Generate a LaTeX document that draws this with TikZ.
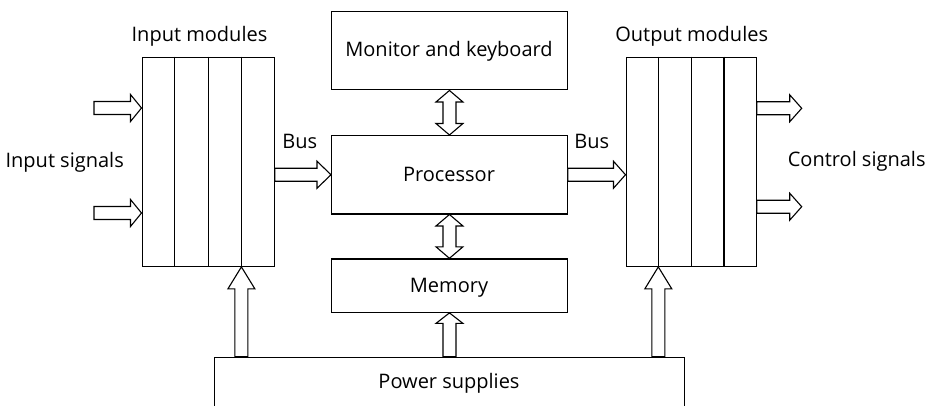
\documentclass[tikz,border=0pt]{standalone}
\usepackage{fontspec}
\setmainfont{Open Sans}
\usetikzlibrary{calc}
\tikzset{
  box/.style={draw, line width=1.2pt, inner sep=0pt, anchor=north west, font=\lblfont},
  divl/.style={line width=1.2pt},
  fat/.style={draw, line width=1.1pt, fill=white, line join=miter},
  lbl/.style={inner sep=0pt, anchor=base, font=\lblfont}
}
\newcommand\lblfont{\fontsize{20}{21}\selectfont}
% right-pointing block arrow: tail, tip, head length
\newcommand\arrR[3]{%
  \draw[fat] ($(#1)+(0,-6.5)$) -- ($(#2)+(-#3,-6.5)$) -- ($(#2)+(-#3,-13.5)$) -- (#2)
    -- ($(#2)+(-#3,13.5)$) -- ($(#2)+(-#3,6.5)$) -- ($(#1)+(0,6.5)$) -- cycle;}
% up-pointing block arrow: tail (bottom), tip (top), head length
\newcommand\arrU[3]{%
  \draw[fat] ($(#1)+(-6.5,0)$) -- ($(#2)+(-6.5,#3)$) -- ($(#2)+(-13.5,#3)$) -- (#2)
    -- ($(#2)+(13.5,#3)$) -- ($(#2)+(6.5,#3)$) -- ($(#1)+(6.5,0)$) -- cycle;}
% vertical double block arrow: top tip, bottom tip, head length
\newcommand\arrUD[3]{%
  \draw[fat] (#1) -- ($(#1)+(13.5,#3)$) -- ($(#1)+(6.5,#3)$) -- ($(#2)+(6.5,-#3)$)
    -- ($(#2)+(13.5,-#3)$) -- (#2) -- ($(#2)+(-13.5,-#3)$) -- ($(#2)+(-6.5,-#3)$)
    -- ($(#1)+(-6.5,#3)$) -- ($(#1)+(-13.5,#3)$) -- cycle;}
\begin{document}
\begin{tikzpicture}[x=1pt,y=-1pt]
\useasboundingbox (0,0) rectangle (933,406);

% blocks
\node[box, minimum width=132pt, minimum height=209pt] (inm) at (141.5,56.7) {};
\node[box, minimum width=130pt, minimum height=209pt] (outm) at (625.5,56.7) {};
\node[box, minimum width=235.7pt, minimum height=78.6pt] (mon) at (331,10.7) {};
\node[box, minimum width=235.7pt, minimum height=78.3pt] (proc) at (331,135) {};
\node[box, minimum width=235.7pt, minimum height=53.4pt] (mem) at (331,258.3) {};
\node[box, minimum width=470pt, minimum height=80pt] (pow) at (214,356.7) {};

\foreach \i in {1,2,3} {
  \draw[divl] ($(inm.north west)!\i/4!(inm.north east)$) -- ($(inm.south west)!\i/4!(inm.south east)$);
  \draw[divl] ($(outm.north west)!\i/4!(outm.north east)$) -- ($(outm.south west)!\i/4!(outm.south east)$);
}

% labels
\node[lbl] (tmon) at (449,56.7) {Monitor and keyboard};
\node[lbl] (tproc) at (449,181.5) {Processor};
\node[lbl] (tmem) at (449,292.5) {Memory};
\node[lbl] (tpow) at (449,388.3) {Power supplies};
\node[lbl] (tinm) at (199.5,41.7) {Input modules};
\node[lbl] (toutm) at (691.7,41.7) {Output modules};
\node[lbl] (tbus1) at (299.7,148.3) {Bus};
\node[lbl] (tbus2) at (591.7,148.3) {Bus};
\node[lbl] (tins) at (64.7,167.3) {Input signals};
\node[lbl] (tcs) at (856.7,166.7) {Control signals};

% coordinates
\coordinate (is1) at (94,108);
\coordinate (is2) at (94,213);
\coordinate (is1t) at (inm.west |- is1);
\coordinate (is2t) at (inm.west |- is2);
\coordinate (b1) at (inm.east |- proc.west);
\coordinate (b2) at (outm.west |- proc.east);
\coordinate (cs1) at (outm.east |- 0,108.3);
\coordinate (cs2) at (outm.east |- 0,206.7);
\coordinate (cs1t) at (801.7,108.3);
\coordinate (cs2t) at (801.7,206.7);
\coordinate (pin) at ($(inm.south west)!0.75!(inm.south east)$);
\coordinate (pout) at ($(outm.south west)!0.25!(outm.south east)$);
\coordinate (pinb) at (pin |- pow.north);
\coordinate (poutb) at (pout |- pow.north);
\coordinate (pmemb) at (mem.south |- pow.north);

% arrows
\arrR{is1}{is1t}{11}
\arrR{is2}{is2t}{11}
\arrR{b1}{proc.west}{14}
\arrR{proc.east}{b2}{12}
\arrR{cs1}{cs1t}{12}
\arrR{cs2}{cs2t}{12}
\arrUD{mon.south}{proc.north}{11.5}
\arrUD{proc.south}{mem.north}{11.5}
\arrU{pinb}{pin}{22}
\arrU{poutb}{pout}{22}
\arrU{pmemb}{mem.south}{10.5}
\end{tikzpicture}
\end{document}
